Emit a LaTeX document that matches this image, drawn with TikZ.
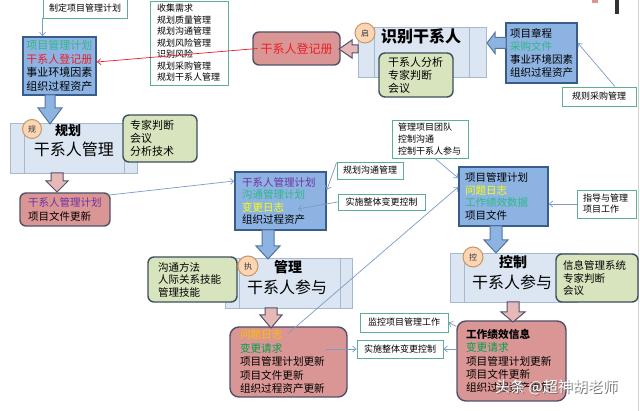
\documentclass[tikz,border=0pt]{standalone}
\usepackage{fontspec}
\setmainfont{Noto Sans CJK SC}
\usetikzlibrary{arrows.meta,calc}
\definecolor{bluefill}{RGB}{141,179,226}
\definecolor{blueedge}{RGB}{56,93,138}
\definecolor{pinkfill}{RGB}{217,150,148}
\definecolor{pinkedge}{RGB}{80,80,106}
\definecolor{greenfill}{RGB}{215,228,189}
\definecolor{greenedge}{RGB}{61,79,92}
\definecolor{procfill}{RGB}{220,230,242}
\definecolor{procedge}{RGB}{166,185,211}
\definecolor{circfill}{RGB}{252,213,181}
\definecolor{circedge}{RGB}{200,150,100}
\definecolor{lbledge}{RGB}{92,176,140}
\definecolor{connc}{RGB}{122,156,198}
\definecolor{tgreen}{RGB}{45,185,135}
\definecolor{tred}{RGB}{235,30,40}
\definecolor{tpurple}{RGB}{112,48,160}
\definecolor{tyellow}{RGB}{255,255,0}
\definecolor{tgold}{RGB}{255,192,0}
\definecolor{tgreentwo}{RGB}{0,160,80}
\definecolor{arrowpink}{RGB}{230,185,184}
\newcommand\blkdown[7]{%
  \path[#1] ({#2-#6},#3) -- ({#2-#6},#4) -- ({#2-#7},#4) -- (#2,#5) -- ({#2+#7},#4) -- ({#2+#6},#4) -- ({#2+#6},#3) -- cycle;}
\newcommand\blkleft[7]{%
  \path[#1] (#3,{#2-#6}) -- (#4,{#2-#6}) -- (#4,{#2-#7}) -- (#5,#2) -- (#4,{#2+#7}) -- (#4,{#2+#6}) -- (#3,{#2+#6}) -- cycle;}
\newcommand\wmtext{头条 @超神胡老师}
\begin{document}
\begin{tikzpicture}[x=1pt,y=-1pt,
  bx/.style={inner ysep=0pt, align=left},
  bluebox/.style={bx, draw=blueedge, fill=bluefill, line width=1.6pt},
  pinkbox/.style={bx, draw=pinkedge, fill=pinkfill, rounded corners=6pt, line width=1.4pt},
  greenbox/.style={bx, draw=greenedge, fill=greenfill, rounded corners=6pt, line width=1.4pt},
  lblbox/.style={bx, draw=lbledge, fill=white, line width=0.9pt, align=center, inner xsep=0pt, font=\fontsize{9}{11}\selectfont},
  lbllist/.style={bx, draw=lbledge, fill=white, line width=0.9pt},
  procbox/.style={draw=procedge, fill=procfill, line width=0.8pt, inner sep=0pt},
  procline/.style={draw=procedge, line width=0.8pt},
  ttop/.style={inner sep=0pt, font=\bfseries\fontsize{14}{14}\selectfont},
  tbot/.style={inner sep=0pt, font=\fontsize{16}{16}\selectfont},
  circ/.style={circle, draw=circedge, fill=circfill, line width=1pt, minimum size=20pt, inner sep=0pt, text=black!80, font=\fontsize{8}{8}\selectfont},
  conn/.style={draw=connc, line width=0.7pt, -{Straight Barb[length=3.5pt,width=6pt]}},
  redconn/.style={draw=tred, line width=0.7pt, -{Straight Barb[length=3.5pt,width=6pt]}},
  bluearr/.style={fill=bluefill, draw=blueedge!85, line width=1pt},
  pinkarr/.style={fill=arrowpink, draw=pinkedge, line width=1pt}
]
\useasboundingbox (0,0) rectangle (640,411);
\fill[white] (0,0) rectangle (640,411);
\draw[gray!35, line width=0.8pt] (638.5,0) -- (638.5,411);
\fill[black!80] (615,0) rectangle (619,14);
\fill[pinkfill] (592,0) rectangle (598,3);

% process boxes
\node[procbox, minimum width=128pt, minimum height=50pt] (pI) at (422,52) {};
\draw[procline] ([xshift=17pt]pI.north west) -- ([xshift=17pt]pI.south west);
\draw[procline] ([xshift=-17pt]pI.north east) -- ([xshift=-17pt]pI.south east);
\node[inner sep=0pt, font=\bfseries\fontsize{16}{16}\selectfont] (tI) at (421,36) {识别干系人};

\node[procbox, minimum width=127pt, minimum height=50pt] (pP) at (73.5,148) {};
\draw[procline] ([xshift=15pt]pP.north west) -- ([xshift=15pt]pP.south west);
\draw[procline] ([xshift=-13pt]pP.north east) -- ([xshift=-13pt]pP.south east);
\node[ttop, font=\bfseries\fontsize{13}{13}\selectfont] (tPa) at (68,131) {规划};
\node[tbot] (tPb) at (74,149) {干系人管理};

\node[procbox, minimum width=127pt, minimum height=50pt] (pM) at (288.5,283) {};
\draw[procline] ([xshift=15pt]pM.north west) -- ([xshift=15pt]pM.south west);
\draw[procline] ([xshift=-12pt]pM.north east) -- ([xshift=-12pt]pM.south east);
\node[ttop] (tMa) at (288,267) {管理};
\node[tbot] (tMb) at (287,287) {干系人参与};

\node[procbox, minimum width=127pt, minimum height=49pt] (pC) at (513.5,277.5) {};
\draw[procline] ([xshift=15pt]pC.north west) -- ([xshift=15pt]pC.south west);
\draw[procline] ([xshift=-12pt]pC.north east) -- ([xshift=-12pt]pC.south east);
\node[ttop] (tCa) at (513,262) {控制};
\node[tbot] (tCb) at (512,282) {干系人参与};

% green tool boxes
\node[greenbox, minimum width=74pt, minimum height=44pt, inner xsep=9pt, text width=56pt, font=\fontsize{11}{13}\selectfont] (gI) at (416,75) {干系人分析\\专家判断\\会议};
\node[greenbox, minimum width=74pt, minimum height=47pt, inner xsep=7pt, text width=60pt, font=\fontsize{11}{13}\selectfont] (gP) at (160,138.5) {专家判断\\会议\\分析技术};
\node[greenbox, minimum width=89pt, minimum height=45pt, inner xsep=10pt, text width=69pt, font=\fontsize{10.5}{12.5}\selectfont] (gM) at (192.5,279.5) {沟通方法\\人际关系技能\\管理技能};
\node[greenbox, minimum width=82pt, minimum height=48pt, inner xsep=7pt, text width=68pt, font=\fontsize{10.5}{12.5}\selectfont] (gC) at (597,278) {信息管理系统\\专家判断\\会议};

% circles
\node[circ] (cI) at (365,33) {启};
\node[circ, minimum size=19pt] (cP) at (32,129) {规};
\node[circ] (cM) at (248,266) {执};
\node[circ] (cC) at (473,257) {控};

% blue input boxes
\node[bluebox, minimum width=73pt, minimum height=58pt, inner xsep=3.5pt, text width=66pt, font=\fontsize{11}{13.5}\selectfont] (b1) at (59.5,66) {\textcolor{tgreen}{项目管理计划}\\\textcolor{tred}{干系人登记册}\\事业环境因素\\组织过程资产};
\node[bluebox, minimum width=71pt, minimum height=60pt, inner xsep=4pt, text width=63pt, font=\fontsize{10.5}{13.3}\selectfont] (bR) at (541.5,53) {项目章程\\\textcolor{tgreen}{采购文件}\\事业环境因素\\组织过程资产};
\node[bluebox, minimum width=91pt, minimum height=58pt, inner xsep=7pt, text width=77pt, font=\fontsize{10.5}{12.2}\selectfont] (bM) at (280.5,201) {\textcolor{tpurple}{干系人管理计划}\\\textcolor{tgreen}{沟通管理计划}\\\textcolor{tyellow}{变更日志}\\组织过程资产};
\node[bluebox, minimum width=89pt, minimum height=59pt, inner xsep=6pt, text width=77pt, font=\fontsize{10.5}{12.7}\selectfont] (bS) at (503.5,196.5) {项目管理计划\\\textcolor{tyellow}{问题日志}\\\textcolor{tgreen}{工作绩效数据}\\项目文件};

% pink output boxes
\node[pinkbox, minimum width=87pt, minimum height=33pt, align=center, text=tred, font=\fontsize{12}{12}\selectfont] (pk1) at (296.5,48.5) {干系人登记册};
\node[pinkbox, minimum width=90pt, minimum height=33pt, inner xsep=8pt, text width=74pt, font=\fontsize{10.5}{13.5}\selectfont] (pL) at (65,209.5) {\textcolor{tpurple}{干系人管理计划}\\项目文件更新};
\node[pinkbox, rounded corners=9pt, minimum width=117pt, minimum height=70pt, inner xsep=10pt, text width=97pt, font=\fontsize{10.6}{13.5}\selectfont] (pBB) at (288.5,362) {\textcolor{tgold}{问题日志}\\\textcolor{tgreentwo}{变更请求}\\项目管理计划更新\\项目文件更新\\组织过程资产更新};
\node[pinkbox, rounded corners=9pt, minimum width=109pt, minimum height=80pt, inner xsep=9pt, text width=91pt, font=\fontsize{10.7}{13.3}\selectfont] (pY) at (511.5,361) {\textbf{工作绩效信息}\\\textcolor{tgreentwo}{变更请求}\\项目管理计划更新\\项目文件更新\\组织过程资产更新};

% labels
\node[lblbox, minimum width=84pt, minimum height=19pt] (lA) at (85,8.5) {制定项目管理计划};
\node[lbllist, minimum width=78pt, minimum height=84pt, inner xsep=7pt, text width=64pt, font=\fontsize{9}{11.5}\selectfont] (lC) at (189,43) {收集需求\\规划质量管理\\规划沟通管理\\规划风险管理\\识别风险\\规划采购管理\\规划干系人管理};
\node[lblbox, minimum width=74pt, minimum height=19pt] (lI) at (599,96.5) {规则采购管理};
\node[lblbox, minimum width=66pt, minimum height=17pt] (lO) at (370,170.5) {规划沟通管理};
\node[lblbox, minimum width=87pt, minimum height=16pt] (lP) at (381.5,202) {实施整体变更控制};
\node[lbllist, minimum width=76pt, minimum height=38pt, inner xsep=6pt, text width=64pt, font=\fontsize{9}{12}\selectfont] (lQ) at (430,139) {管理项目团队\\控制沟通\\控制干系人参与};
\node[lbllist, minimum width=59pt, minimum height=28pt, inner xsep=6pt, text width=47pt, font=\fontsize{9}{11}\selectfont] (lT) at (606.5,204) {指导与管理\\项目工作};
\node[lblbox, minimum width=88pt, minimum height=19pt] (lZ) at (404,322.5) {监控项目管理工作};
\node[lblbox, minimum width=86pt, minimum height=18pt] (lAA) at (400,349) {实施整体变更控制};

% block arrows
\blkdown{bluearr}{50}{95}{108}{124}{5}{12}
\blkdown{pinkarr}{57}{173}{181}{192}{6}{11}
\blkdown{bluearr}{268}{230}{246}{259}{6}{12}
\blkdown{pinkarr}{271}{308}{315}{328}{6}{11}
\blkdown{bluearr}{496}{226}{240}{253}{6}{12}
\blkdown{pinkarr}{513}{302}{312}{322}{6}{12}
\blkleft{pinkarr}{49}{358}{352}{339}{4}{9}
\blkleft{bluearr}{43}{506}{495}{487}{5.5}{10.5}

% connectors
\draw[conn] (lA.south west) -- (lA.south west |- b1.north);
\draw[redconn] ([xshift=5pt]pk1.west) -- ([yshift=4pt]b1.east);
\draw[conn] ([xshift=16pt]lI.north) -- ([yshift=10pt]bR.east);
\draw[conn] ([xshift=-4pt,yshift=-3pt]pL.north east) -- ([yshift=20pt]bM.west);
\draw[conn] ([yshift=-1pt]lO.north west) -- ([yshift=11pt]bM.east);
\draw[conn] (lP.west) -- ([xshift=-29pt,yshift=-8pt]bM.east);
\draw[conn] ([xshift=5pt]lQ.south) -- ([yshift=18.5pt]bS.west);
\draw[conn] ([xshift=59pt,yshift=-7pt]pBB.north west) -- ([yshift=9.5pt]bS.west);
\draw[conn] (lT.west) -- (lT.west -| bS.east);
\draw[conn] ([yshift=-6pt]pY.north west) -- (lZ.east);
\draw[conn] (lAA.east -| pY.west) -- (lAA.east);
\draw[conn] ($(pBB.east |- lAA.west)+(-22,0)$) -- (lAA.west);

% watermark (white text with a soft shadow, one node)
\node[inner sep=0pt, font=\fontsize{15}{15}\selectfont] (wm) at (556.5,387.5) {\rlap{\kern1pt\raisebox{-1pt}{\textcolor{black!55}{\wmtext}}}\textcolor{white}{\wmtext}};
\end{tikzpicture}
\end{document}
